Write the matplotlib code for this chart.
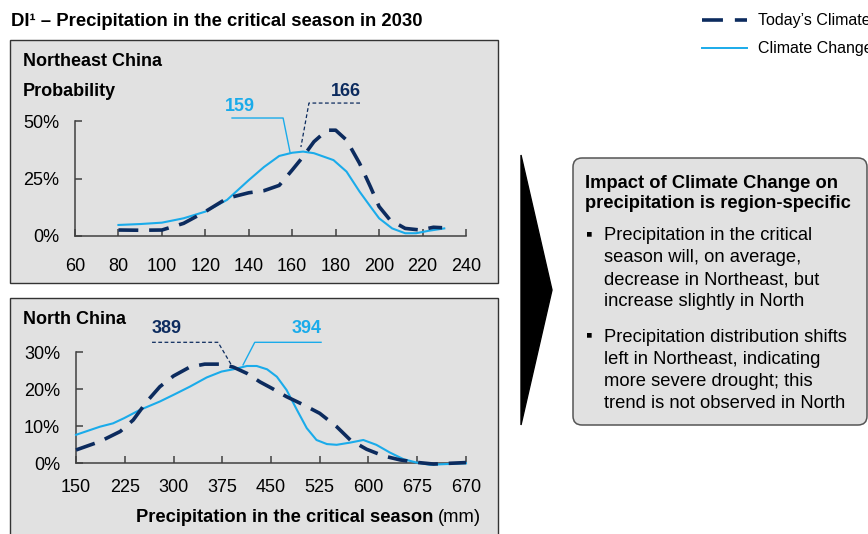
import matplotlib
matplotlib.use("Agg")
import matplotlib.pyplot as plt
from matplotlib.patches import Rectangle, FancyBboxPatch, Polygon

plt.rcParams['font.family'] = ['Liberation Sans', 'DejaVu Sans']

# ---- data -------------------------------------------------------------
title = "DI\u00b9 \u2013 Precipitation in the critical season in 2030"
series_names = ["Today\u2019s Climate", "Climate Change"]

# Northeast China: probability (%) vs precipitation (mm)
ne_today_x = [80, 90, 100, 110, 120, 130, 140, 147, 154, 160, 165, 170, 176,
              180, 185, 191, 196, 200, 205, 212, 219, 225, 229]
ne_today_y = [2.6, 2.5, 2.6, 5.5, 10.6, 16.4, 18.8, 19.7, 22.0, 28.7, 34.5,
              41.0, 46.0, 46.0, 41.7, 31.6, 21.4, 12.8, 7.0, 3.3, 2.6, 3.8, 3.6]
ne_cc_x = [80, 90, 100, 110, 120, 130, 140, 147, 154, 160, 165, 170, 179,
           185, 191, 196, 200, 206, 212, 217, 223, 230]
ne_cc_y = [4.8, 5.2, 5.8, 7.7, 10.6, 15.7, 24.3, 30.0, 34.8, 36.2, 36.7, 36.0,
           33.0, 28.0, 19.3, 12.8, 7.7, 3.3, 1.2, 1.2, 2.3, 3.3]
ne_means = [166, 159]
ne_xticks = [60, 80, 100, 120, 140, 160, 180, 200, 220, 240]
ne_yticks = [0, 25, 50]

# North China
n_today_x = [150, 187, 218, 238, 259, 279, 300, 325, 348, 373, 392, 413, 433,
             451, 474, 500, 525, 551, 572, 597, 623, 649, 677, 700, 725, 750]
n_today_y = [3.6, 5.9, 8.6, 11.7, 16.7, 20.7, 23.6, 26.0, 26.8, 26.8, 26.0,
             24.3, 22.0, 20.3, 18.0, 15.8, 13.5, 9.9, 6.3, 3.8, 2.0, 0.9, 0.2,
             -0.2, 0.0, 0.2]
n_cc_x = [150, 187, 207, 224, 248, 279, 300, 325, 351, 374, 392, 413, 428, 444,
          459, 474, 490, 505, 520, 536, 551, 572, 592, 612, 633, 654, 674, 695,
          720, 750]
n_cc_y = [7.7, 9.9, 10.8, 12.2, 14.4, 16.7, 18.5, 20.7, 23.2, 24.8, 25.4, 26.3,
          26.3, 25.4, 23.4, 19.8, 14.4, 9.5, 6.3, 5.2, 5.0, 5.6, 6.3, 5.0, 2.9,
          1.1, 0.2, -0.4, -0.2, 0.0]
n_means = [389, 394]
n_xticks = [150, 225, 300, 375, 450, 525, 600, 675, 750]
n_xticklabels = ["150", "225", "300", "375", "450", "525", "600", "675", "670"]
n_yticks = [0, 10, 20, 30]

bullets = [
    ["Precipitation in the critical", "season will, on average,",
     "decrease in Northeast, but", "increase slightly in North"],
    ["Precipitation distribution shifts", "left in Northeast, indicating",
     "more severe drought; this", "trend is not observed in North"],
]
box_header = ["Impact of Climate Change on", "precipitation is region-specific"]

# ---- style ------------------------------------------------------------
NAVY = "#0c2b5e"
LIGHT = "#1aabea"
PANEL = "#e1e1e1"
AXIS = "#404040"
W, H = 868, 534

fig = plt.figure(figsize=(W / 100, H / 100), dpi=100)

# pixel-space canvas for panels, boxes and free text
bg = fig.add_axes([0, 0, 1, 1], zorder=0)
bg.set_xlim(0, W)
bg.set_ylim(H, 0)
bg.axis("off")

bg.add_patch(Rectangle((10, 40), 488, 243, facecolor=PANEL, edgecolor="#333333", lw=1))
bg.add_patch(Rectangle((10, 298), 488, 260, facecolor=PANEL, edgecolor="#333333", lw=1,
                       clip_on=False))

bg.text(11, 22, title, fontsize=13.3, fontweight="bold", va="center", ha="left")

# legend
bg.plot([702, 747], [20, 20], color=NAVY, lw=2.6, dashes=(5.8, 3.3))
bg.plot([702, 747], [48, 48], color=LIGHT, lw=1.4)
bg.text(758, 20, series_names[0], fontsize=11.5, va="center", ha="left", clip_on=False)
bg.text(758, 48, series_names[1], fontsize=11.5, va="center", ha="left", clip_on=False)

# chevron
bg.add_patch(Polygon([(521, 155), (552, 290), (521, 425)], closed=True,
                     facecolor="black", edgecolor="black"))

# takeaway box
bg.add_patch(FancyBboxPatch((573, 158), 294, 267,
                            boxstyle="round,pad=0,rounding_size=9",
                            facecolor=PANEL, edgecolor="#555555", lw=1.1))
for i, line in enumerate(box_header):
    bg.text(585, 183 + 21 * i, line, fontsize=13.2, fontweight="bold",
            va="center", ha="left")
bullet_y = [[236, 258, 280, 302], [337, 359, 381, 403]]
for lines, ys in zip(bullets, bullet_y):
    bg.text(589, ys[0] - 1, "\u25aa", fontsize=13.5, va="center", ha="center")
    for line, y in zip(lines, ys):
        bg.text(604, y, line, fontsize=13.2, va="center", ha="left")

# panel labels
bg.text(23, 62, "Northeast China", fontsize=13, fontweight="bold", va="center")
bg.text(23, 91, "Probability", fontsize=13, fontweight="bold", va="center")
bg.text(23, 320, "North China", fontsize=13, fontweight="bold", va="center")

# x-axis title of the lower panel
bg.text(433, 517, "Precipitation in the critical season", fontsize=13.2,
        fontweight="bold", va="center", ha="right")
bg.text(438, 517, "(mm)", fontsize=13.2, va="center", ha="left")


def style_axis(ax, xpad):
    ax.patch.set_alpha(0)
    for s in ("top", "right"):
        ax.spines[s].set_visible(False)
    for s in ("left", "bottom"):
        ax.spines[s].set_color(AXIS)
        ax.spines[s].set_linewidth(1.1)
    ax.tick_params(direction="in", length=5, width=1.1, color=AXIS,
                   labelsize=13, labelcolor="black")
    ax.tick_params(axis="x", pad=xpad)
    ax.tick_params(axis="y", pad=11.5)


# ---- Northeast China ---------------------------------------------------
ax1 = fig.add_axes([75 / W, 1 - 236 / H, 391 / W, 115 / H], zorder=2)
style_axis(ax1, 16)
ax1.set_xlim(60, 240)
ax1.set_ylim(0, 50)
ax1.set_xticks(ne_xticks)
ax1.set_yticks(ne_yticks)
ax1.set_yticklabels([f"{v}%" for v in ne_yticks])
ax1.plot(ne_cc_x, ne_cc_y, color=LIGHT, lw=1.5, clip_on=False, zorder=3)
ax1.plot(ne_today_x, ne_today_y, color=NAVY, lw=2.6, dashes=(5.5, 3),
         clip_on=False, zorder=4)

# mean call-outs
ax1.plot([132.3, 155.8, ne_means[1]], [51.3, 51.3, 36.4], color=LIGHT, lw=1,
         clip_on=False)
ax1.plot([191.2, 167.7, 164.0], [57.8, 57.8, 38.7], color=NAVY, lw=0.9,
         dashes=(3, 2), clip_on=False)
ax1.text(136, 56.5, str(ne_means[1]), color=LIGHT, fontsize=13,
         fontweight="bold", ha="center", va="center")
ax1.text(184.8, 63, str(ne_means[0]), color=NAVY, fontsize=13,
         fontweight="bold", ha="center", va="center")

# ---- North China -------------------------------------------------------
ax2 = fig.add_axes([76 / W, 1 - 463.3 / H, 390 / W, 111 / H], zorder=2)
style_axis(ax2, 11.5)
ax2.set_xlim(150, 750)
ax2.set_ylim(0, 30)
ax2.set_xticks(n_xticks)
ax2.set_xticklabels(n_xticklabels)
ax2.set_yticks(n_yticks)
ax2.set_yticklabels([f"{v}%" for v in n_yticks])
ax2.plot(n_cc_x, n_cc_y, color=LIGHT, lw=1.5, clip_on=False, zorder=3)
ax2.plot(n_today_x, n_today_y, color=NAVY, lw=2.6, dashes=(5.5, 3),
         clip_on=False, zorder=4)

ax2.plot([267, 368.5, n_means[0]], [32.7, 32.7, 26.6], color=NAVY, lw=0.9,
         dashes=(3, 2), clip_on=False)
ax2.plot([527, 425, 407], [32.7, 32.7, 26.6], color=LIGHT, lw=1,
         clip_on=False)
ax2.text(290, 36.3, str(n_means[0]), color=NAVY, fontsize=13,
         fontweight="bold", ha="center", va="center")
ax2.text(505, 36.3, str(n_means[1]), color=LIGHT, fontsize=13,
         fontweight="bold", ha="center", va="center")

fig.savefig("out.png", dpi=100)
